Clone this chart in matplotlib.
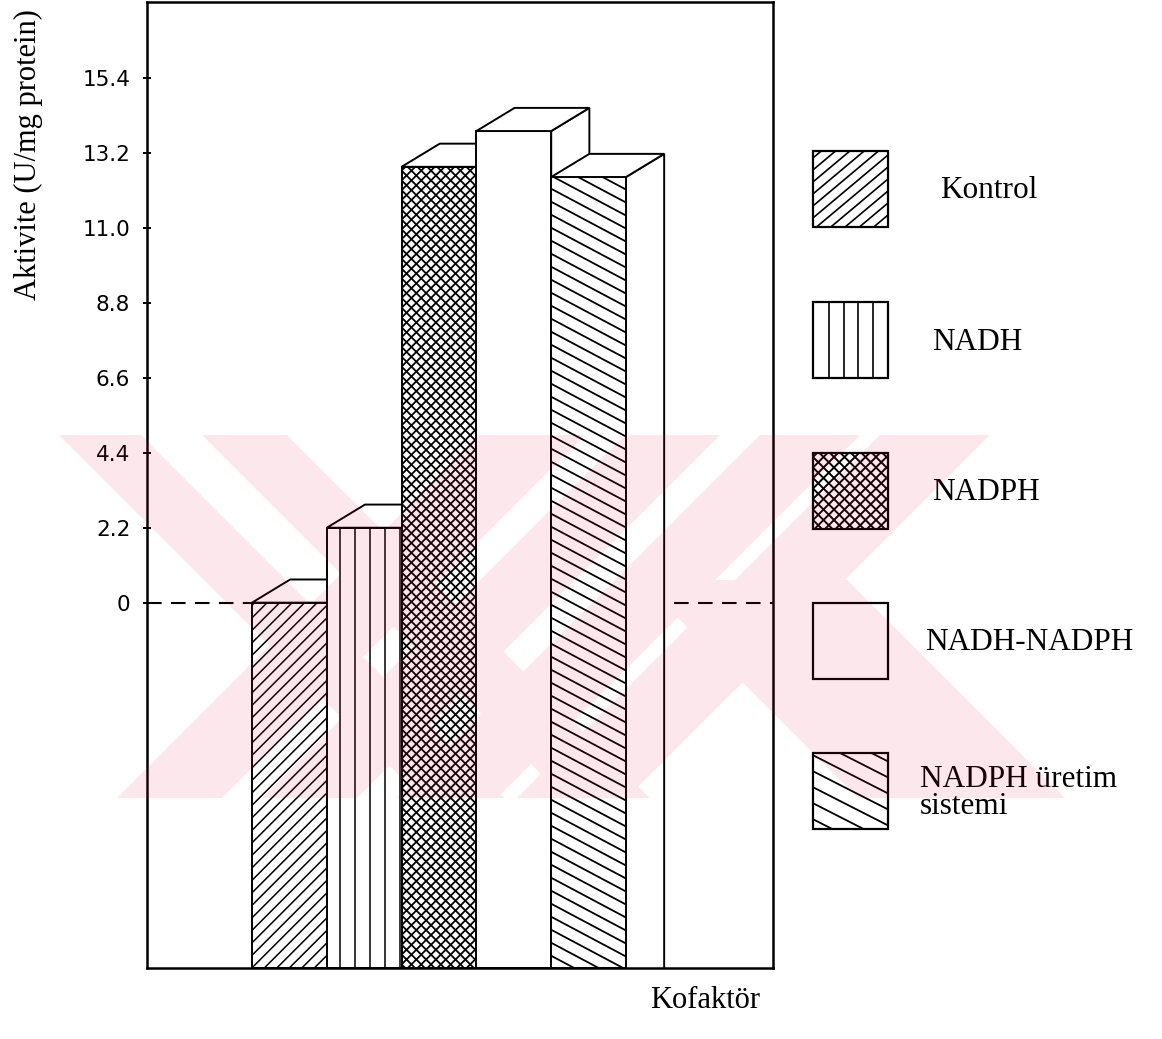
import matplotlib
matplotlib.use('Agg')
import matplotlib.pyplot as plt
import numpy as np
from matplotlib.patches import Polygon, Rectangle, PathPatch
from matplotlib.collections import LineCollection
from matplotlib.transforms import IdentityTransform
from matplotlib.path import Path

# --- data -------------------------------------------------------------
cofactors = ['Kontrol', 'NADH', 'NADPH', 'NADH-NADPH', 'NADPH üretim\nsistemi']
activity = [0.0, 2.2, 12.8, 13.85, 12.5]          # U/mg protein
yticks = [0, 2.2, 4.4, 6.6, 8.8, 11.0, 13.2, 15.4]
ytick_labels = ['0', '2.2', '4.4', '6.6', '8.8', '11.0', '13.2', '15.4']

# hatch per cofactor: (angles in deg, spacing px, line width pt, offset px)
bar_hatch = [([45], 12.5, 1.1, 0),
             ([90], 15.0, 1.1, 13.5),
             ([45, -45], 9.8, 1.3, 0),
             ([], 0, 0, 0),
             ([-28], 13.0, 1.3, 0)]
legend_hatch = [([40], 12.0, 1.2, 0),
                ([90], 14.7, 1.2, 16),
                ([45, -45], 10.5, 1.4, 0),
                ([], 0, 0, 0),
                ([-27], 16.0, 1.3, 0)]

SERIF = ['Liberation Serif', 'DejaVu Serif']
TECH = ['Liberation Sans Narrow', 'DejaVu Sans']

W, H = 1162, 1039
fig = plt.figure(figsize=(W / 100, H / 100), dpi=100)
fig.patch.set_facecolor('white')

ax = fig.add_axes([147 / W, 1 - 968 / H, (773 - 147) / W, (968 - 2) / H])
ax.set_xlim(-1.904, 6.465)
ax.set_ylim(-10.73, 17.64)
ybot = ax.get_ylim()[0]


def hatch(target, patch, angles, step, lw, offset=0.0):
    """Parallel hatch lines drawn in pixel space, clipped to the patch."""
    if not angles:
        return
    bb = patch.get_window_extent()
    x0, y0, x1, y1 = bb.x0, bb.y0, bb.x1, bb.y1
    w = x1 - x0
    segs = []
    for ang in angles:
        if ang == 90:
            for x in np.arange(x0 + offset, x1, step):
                segs.append([(x, y0), (x, y1)])
            continue
        t = np.tan(np.radians(ang))
        vstep = step * abs(t) if abs(ang) == 45 else step
        for c in np.arange(y0 - abs(t) * w - vstep, y1 + abs(t) * w + vstep, vstep):
            segs.append([(x0, c), (x1, c + t * w)])
    lc = LineCollection(segs, colors='black', linewidths=lw,
                        transform=IdentityTransform(),
                        zorder=patch.get_zorder() + 0.1)
    target.add_collection(lc, autolim=False)
    # clip after adding, otherwise the axes patch replaces it
    lc.set_clip_path(patch)


# zero reference line
ax.axhline(0, color='black', lw=1.5, ls=(0, (7, 4.5)), zorder=1)

# pseudo-3D bars: side face, front face, top face
DX, DY = 0.51, 0.68
xs = np.arange(len(activity))
bars = ax.bar(xs, np.array(activity) - ybot, bottom=ybot, width=1.0,
              facecolor='white', edgecolor='black', linewidth=1.4)
for i, (bar, v) in enumerate(zip(bars, activity)):
    z = 2 + 3 * i
    xl, xr = i - 0.5, i + 0.5
    side = Polygon([(xr, ybot - 1), (xr, v), (xr + DX, v + DY),
                    (xr + DX, ybot - 1)],
                   closed=True, facecolor='white', edgecolor='black',
                   lw=1.4, zorder=z)
    top = Polygon([(xl, v), (xr, v), (xr + DX, v + DY), (xl + DX, v + DY)],
                  closed=True, facecolor='white', edgecolor='black',
                  lw=1.4, zorder=z + 2)
    ax.add_patch(side)
    bar.set_zorder(z + 1)
    ax.add_patch(top)
    angles, step, lw, off = bar_hatch[i]
    hatch(ax, bar, angles, step, lw, off)

ax.set_xticks([])
ax.set_yticks(yticks, ytick_labels)
ax.tick_params(axis='y', direction='inout', length=6, width=1.4, pad=9,
               labelsize=15.5)
for lab in ax.get_yticklabels():
    lab.set_family(TECH)
for sp in ax.spines.values():
    sp.set_linewidth(1.8)
    sp.set_zorder(30)

fig.text(28 / W, 1 - 155 / H, 'Aktivite (U/mg protein)', rotation=90,
         ha='center', va='center', fontsize=22, family=SERIF)
fig.text(705 / W, 1 - 1000 / H, 'Kofaktör', ha='center', va='center',
         fontsize=22, family=SERIF)

# legend drawn in pixel coordinates on an overlay
ov = fig.add_axes([0, 0, 1, 1], zorder=5)
ov.set_xlim(0, W)
ov.set_ylim(H, 0)
ov.axis('off')
ov.patch.set_alpha(0)

box_tops = [151, 302, 453, 603, 753]
label_x = [940, 932, 932, 925, 920]
for i, name in enumerate(cofactors):
    box = Rectangle((813, box_tops[i]), 75, 76, facecolor='white',
                    edgecolor='black', lw=1.6, zorder=2)
    ov.add_patch(box)
    angles, step, lw, off = legend_hatch[i]
    hatch(ov, box, angles, step, lw, off)
    ov.text(label_x[i], box_tops[i] + 40, name, ha='left', va='center',
            fontsize=22.5, family=SERIF, linespacing=0.9, zorder=3)

# faint pink stripes printed across the page
stripes = [  # (x at top edge, width, direction)
    (59, 82, 1), (202, 85, 1),
    (480, 105, -1), (625, 95, -1),
    (760, 100, -1), (880, 110, -1),
]
wy0, wy1 = 435, 798
paths = []
for x0, w, d in stripes:
    h = wy1 - wy0
    paths.append(Path([(x0, wy0), (x0 + w, wy0), (x0 + w + d * h, wy1),
                       (x0 + d * h, wy1), (x0, wy0)], closed=True))
# lower leg on the right
ly0 = 580
h = wy1 - ly0
paths.append(Path([(640, ly0), (847, ly0), (847 + h, wy1), (640 + h, wy1),
                   (640, ly0)], closed=True))
wm = PathPatch(Path.make_compound_path(*paths), facecolor='#e8204a',
               edgecolor='none', alpha=0.1, zorder=10)
ov.add_patch(wm)

fig.savefig('out.png', dpi=100, facecolor='white')
